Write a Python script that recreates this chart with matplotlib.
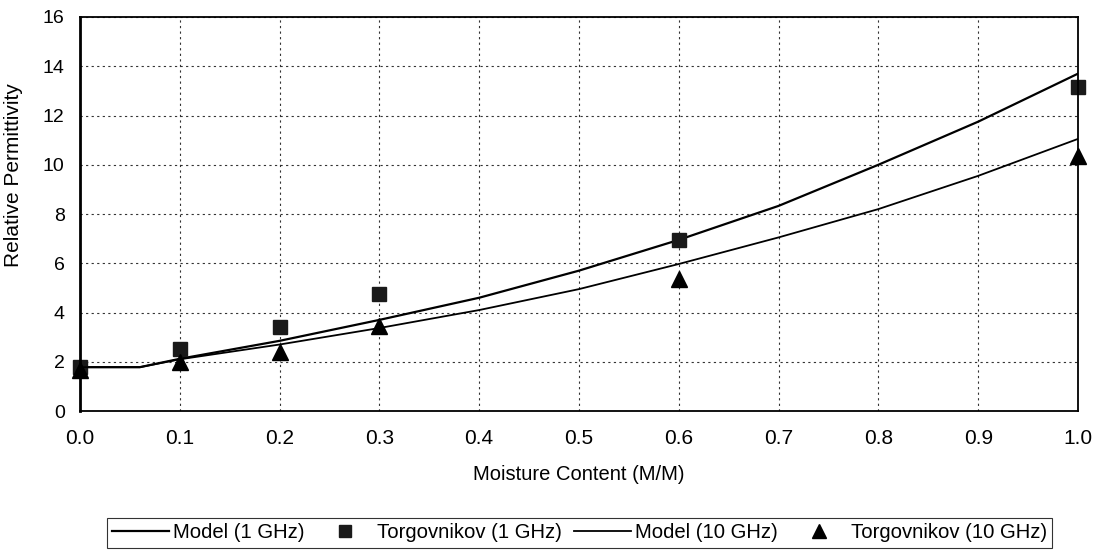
import numpy as np
import matplotlib.pyplot as plt

# moisture content (M/M)
model_x = [0.0, 0.06, 0.1, 0.2, 0.3, 0.4, 0.5, 0.6, 0.7, 0.8, 0.9, 1.0]
model_1ghz = [1.78, 1.78, 2.12, 2.85, 3.7, 4.6, 5.7, 6.95, 8.33, 10.0, 11.75, 13.7]
model_10ghz = [1.78, 1.78, 2.1, 2.7, 3.37, 4.1, 4.95, 5.97, 7.05, 8.2, 9.55, 11.05]

torg_x = [0.0, 0.1, 0.2, 0.3, 0.6, 1.0]
torg_1ghz = [1.8, 2.5, 3.42, 4.75, 6.95, 13.15]
torg_10ghz = [1.65, 2.0, 2.38, 3.45, 5.35, 10.35]

plt.rcParams['font.family'] = ['Liberation Sans', 'DejaVu Sans']

fig = plt.figure(figsize=(11.06, 5.5), dpi=100)
ax = fig.add_axes([0.0723, 0.2527, 0.9024, 0.7164])

ax.plot(model_x, model_1ghz, color='black', lw=1.6, label='Model (1 GHz)')
ax.plot(torg_x, torg_1ghz, ls='none', marker='s', ms=10, color='#1a1a1a',
        clip_on=False, label='Torgovnikov (1 GHz)')
ax.plot(model_x, model_10ghz, color='black', lw=1.3, label='Model (10 GHz)')
ax.plot(torg_x, torg_10ghz, ls='none', marker='^', ms=11, color='black',
        clip_on=False, label='Torgovnikov (10 GHz)')

ax.set_xlim(0, 1.0)
ax.set_ylim(0, 16)
ax.set_xticks(np.arange(0, 1.01, 0.1))
ax.set_xticklabels(['%.1f' % v for v in np.arange(0, 1.01, 0.1)])
ax.set_yticks(range(0, 17, 2))
ax.tick_params(axis='x', labelsize=15, length=0, pad=13)
ax.tick_params(axis='y', labelsize=14, length=0, pad=11)
ax.grid(True, ls=(0, (2, 3)), color='#333333', lw=0.8)
for s in ax.spines.values():
    s.set_linewidth(1.3)
ax.spines['left'].set_linewidth(2)

ax.set_xlabel('Moisture Content (M/M)', fontsize=14.5, labelpad=12)
ax.set_ylabel('Relative Permittivity', fontsize=15)
ax.yaxis.set_label_coords(-0.057, 0.6)

leg = fig.legend(loc='center', bbox_to_anchor=(0.524, 0.031), ncol=4, fontsize=14.6,
                 frameon=True, fancybox=False, edgecolor='black', handlelength=2.8,
                 columnspacing=0.6, handletextpad=0.2, borderpad=0.25, markerscale=0.9)
leg.get_frame().set_linewidth(0.8)

fig.savefig('out.png', dpi=100)
